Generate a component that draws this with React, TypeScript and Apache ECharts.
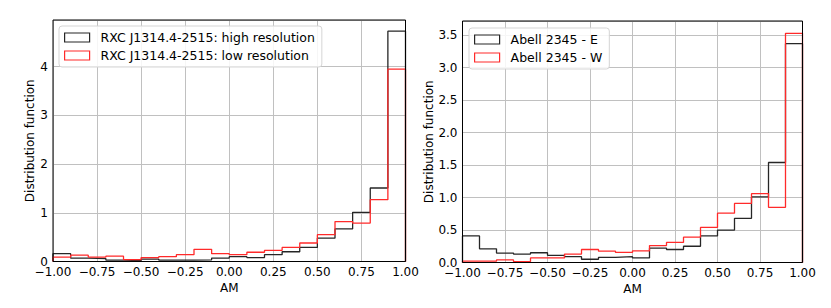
import React, { useEffect, useRef } from "react";
import * as echarts from "echarts";

// Bin edges (AM) shared by both panels
const binEdges = [
  -1.0, -0.9, -0.8, -0.7, -0.6, -0.5, -0.4, -0.3, -0.2, -0.1, 0.0,
  0.1, 0.2, 0.3, 0.4, 0.5, 0.6, 0.7, 0.8, 0.9, 1.0,
];

// Left panel: RXC J1314.4-2515
const rxcHigh = [
  0.16, 0.07, 0.06, 0.03, 0.02, 0.05, 0.03, 0.03, 0.035, 0.07,
  0.1, 0.08, 0.14, 0.2, 0.29, 0.48, 0.67, 1.01, 1.51, 4.73,
];
const rxcLow = [
  0.09, 0.13, 0.09, 0.11, 0.04, 0.08, 0.1, 0.14, 0.25, 0.16,
  0.14, 0.19, 0.23, 0.29, 0.38, 0.55, 0.82, 0.79, 1.27, 3.95,
];

// Right panel: Abell 2345
const abellE = [
  0.41, 0.21, 0.145, 0.13, 0.15, 0.11, 0.09, 0.05, 0.08, 0.09,
  0.07, 0.22, 0.2, 0.25, 0.41, 0.5, 0.68, 1.01, 1.54, 3.37,
];
const abellW = [
  0.02, 0.02, 0.04, 0.015, 0.07, 0.07, 0.13, 0.2, 0.175, 0.155,
  0.18, 0.26, 0.31, 0.39, 0.54, 0.76, 0.91, 1.06, 0.85, 3.53,
];

const xTicks = [-1.0, -0.75, -0.5, -0.25, 0.0, 0.25, 0.5, 0.75, 1.0];
const leftYMax = 4.96;
const rightYMax = 3.72;

const names = {
  rxcHigh: "RXC J1314.4-2515: high resolution",
  rxcLow: "RXC J1314.4-2515: low resolution",
  abellE: "Abell 2345 - E",
  abellW: "Abell 2345 - W",
};

const BLACK = "#262626";
const RED = "#ff2a2a";
const FONT = "DejaVu Sans";

function stepPoints(edges: number[], vals: number[]): number[][] {
  const pts: number[][] = [[edges[0], 0]];
  vals.forEach((v, i) => {
    pts.push([edges[i], v]);
    pts.push([edges[i + 1], v]);
  });
  pts.push([edges[edges.length - 1], 0]);
  return pts;
}

const minus = (s: string) => s.replace("-", "\u2212");

export default function App() {
  const ref = useRef<HTMLDivElement>(null);
  useEffect(() => {
    document.body.style.margin = "0";
    const chart = echarts.init(ref.current!, null, { renderer: "svg" });
    const grids = [
      { left: 53, top: 20, width: 352.5, height: 241.5 },
      { left: 462.5, top: 21, width: 340, height: 241.5 },
    ];
    const xAxis = grids.map((_, i) => ({
      type: "value",
      gridIndex: i,
      min: xTicks[0],
      max: xTicks[xTicks.length - 1],
      interval: 0.25,
      name: "AM",
      nameLocation: "middle",
      nameGap: 18.5,
      nameTextStyle: { fontFamily: FONT, fontSize: 12, color: "#000" },
      axisLine: { show: false },
      axisTick: { show: false },
      axisLabel: {
        fontFamily: FONT,
        fontSize: 12,
        color: "#000",
        margin: 4,
        formatter: (v: number) => minus(v.toFixed(2)),
      },
      splitLine: { show: true, lineStyle: { color: "#c0c0c0", width: 1 } },
    }));
    const yAxis = [
      {
        type: "value",
        gridIndex: 0,
        min: 0,
        max: leftYMax,
        interval: 1,
        name: "Distribution function",
        nameLocation: "middle",
        nameGap: 16,
        nameRotate: 90,
        nameTextStyle: { fontFamily: FONT, fontSize: 12, color: "#000" },
        axisLine: { show: false },
        axisTick: { show: false },
        axisLabel: {
          fontFamily: FONT,
          fontSize: 12,
          color: "#000",
          margin: 5,
          showMaxLabel: false,
          formatter: (v: number) => (v > 4.5 ? "" : String(v)),
        },
        splitLine: { show: true, lineStyle: { color: "#c0c0c0", width: 1 } },
      },
      {
        type: "value",
        gridIndex: 1,
        min: 0,
        max: rightYMax,
        interval: 0.5,
        name: "Distribution function",
        nameLocation: "middle",
        nameGap: 28,
        nameRotate: 90,
        nameTextStyle: { fontFamily: FONT, fontSize: 12, color: "#000" },
        axisLine: { show: false },
        axisTick: { show: false },
        axisLabel: {
          fontFamily: FONT,
          fontSize: 12,
          color: "#000",
          margin: 5,
          showMaxLabel: false,
          formatter: (v: number) => (v > 3.6 ? "" : v.toFixed(1)),
        },
        splitLine: { show: true, lineStyle: { color: "#c0c0c0", width: 1 } },
      },
    ];
    const mk = (name: string, vals: number[], color: string, idx: number) => ({
      name,
      type: "line",
      xAxisIndex: idx,
      yAxisIndex: idx,
      data: stepPoints(binEdges, vals),
      symbol: "none",
      lineStyle: { color, width: 1.3 },
      itemStyle: { color },
      z: 3,
    });
    const legendBase = {
      orient: "vertical",
      icon: "rect",
      itemWidth: 25,
      itemHeight: 9,
      itemGap: 5,
      padding: [5, 7, 5, 5],
      backgroundColor: "rgba(255,255,255,0.85)",
      borderColor: "#d5d5d5",
      borderWidth: 1,
      borderRadius: 3,
      textStyle: {
        fontFamily: FONT,
        fontSize: 12.5,
        color: "#000",
        lineHeight: 13,
        padding: [0, 0, 0, 6],
      },
      selectedMode: false,
      z: 10,
    };
    chart.setOption({
      animation: false,
      grid: grids.map((g) => ({
        ...g,
        show: true,
        borderColor: "#000",
        borderWidth: 1,
        backgroundColor: "transparent",
        z: 5,
      })),
      xAxis,
      yAxis,
      legend: [
        {
          ...legendBase,
          left: 59,
          top: 26,
          data: [
            { name: names.rxcHigh, itemStyle: { color: "transparent", borderColor: BLACK, borderWidth: 1.2 } },
            { name: names.rxcLow, itemStyle: { color: "transparent", borderColor: RED, borderWidth: 1.2 } },
          ],
        },
        {
          ...legendBase,
          left: 469,
          top: 28,
          data: [
            { name: names.abellE, itemStyle: { color: "transparent", borderColor: BLACK, borderWidth: 1.2 } },
            { name: names.abellW, itemStyle: { color: "transparent", borderColor: RED, borderWidth: 1.2 } },
          ],
        },
      ],
      series: [
        mk(names.rxcHigh, rxcHigh, BLACK, 0),
        mk(names.rxcLow, rxcLow, RED, 0),
        mk(names.abellE, abellE, BLACK, 1),
        mk(names.abellW, abellW, RED, 1),
      ],
    });
    return () => chart.dispose();
  }, []);
  return <div ref={ref} style={{ width: 831, height: 308 }} />;
}
